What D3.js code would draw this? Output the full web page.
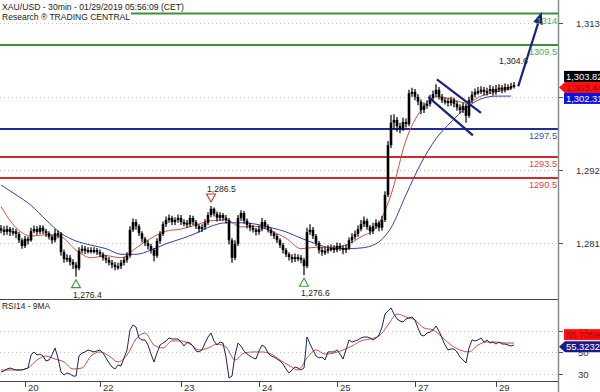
<!DOCTYPE html>
<html><head><meta charset="utf-8">
<script src="https://cdn.jsdelivr.net/npm/d3@7"></script>
<style>body{margin:0;background:#fff}svg{display:block;font-family:"Liberation Sans",Arial,sans-serif}</style>
</head><body><svg id="c" width="600" height="392"></svg>
<script>
// ---------- DATA ----------
const firstOpen = 1283.3;
const closes = [1283.1,1282.8,1283.2,1282.8,1282.9,1282.5,1281.6,1280.8,1281.8,1281.6,
1282.9,1283.2,1282.8,1283.4,1282.9,1282.6,1282.1,1281.6,1282.6,1282.5,
1279.9,1278.9,1279.1,1278.5,1278.1,1277.6,1280.1,1280.4,1280.1,1280.2,
1280.1,1280.2,1279.9,1279.6,1279.1,1278.8,1278.4,1278.1,1277.8,1277.9,
1278.4,1278.8,1279.4,1283.1,1284.2,1283.6,1282.6,1281.8,1281.2,1280.8,
1280.2,1279.4,1281.5,1282.5,1283.9,1284.5,1284.8,1284.2,1284.5,1284.8,
1284.2,1284.1,1283.9,1284.8,1284.2,1283.6,1283.2,1283.5,1284.1,1285.2,
1286.1,1285.4,1284.8,1285.2,1284.8,1284.5,1281.6,1279.1,1281.1,1284.8,
1285.5,1284.4,1283.8,1283.4,1283.1,1282.8,1283.2,1284.2,1283.6,1283.1,
1282.6,1282.2,1281.6,1280.9,1280.2,1279.6,1279.2,1278.9,1279.2,1279.1,
1278.8,1277.9,1282.8,1283.1,1282.2,1281.2,1280.2,1279.9,1280.1,1280.4,
1280.5,1280.2,1280.8,1280.5,1280.2,1280.5,1281.6,1282.1,1282.5,1283.2,
1283.9,1284.4,1283.5,1282.9,1283.6,1284.1,1283.4,1284.5,1288.1,1295.2,
1298.4,1298.8,1297.9,1297.6,1298.5,1298.2,1302.6,1302.8,1302.1,1301.4,
1300.2,1300.8,1301.1,1301.9,1302.5,1303.1,1302.1,1301.6,1301.5,1301.2,
1301.6,1301.1,1300.6,1300.2,1300.8,1299.4,1301.6,1302.4,1302.8,1302.9,
1303.1,1302.8,1302.9,1303.2,1302.8,1303.2,1303.4,1303.1,1303.5,1303.4,
1303.6,1303.8];
const highs = [1283.8,1283.6,1283.7,1283.5,1283.4,1283.2,1282.8,1281.9,1282.2,1282.1,
1283.4,1283.7,1283.6,1283.8,1283.7,1283.2,1282.9,1282.4,1283.2,1283.0,
1282.8,1280.3,1279.6,1279.5,1278.9,1278.5,1280.6,1280.9,1280.8,1280.6,
1280.6,1280.6,1280.5,1280.3,1279.9,1279.5,1279.2,1278.8,1278.5,1278.4,
1278.8,1279.2,1279.9,1283.6,1284.7,1284.6,1283.9,1282.9,1282.1,1281.6,
1281.1,1280.5,1281.9,1282.9,1284.3,1285.0,1285.3,1285.1,1284.9,1285.3,
1285.2,1284.6,1284.5,1285.2,1285.1,1284.5,1283.9,1283.9,1284.6,1285.6,
1286.5,1286.3,1285.7,1285.6,1285.5,1285.2,1284.8,1281.9,1281.6,1285.2,
1285.9,1285.8,1284.7,1284.1,1283.8,1283.4,1283.7,1284.8,1284.5,1283.9,
1283.4,1282.9,1282.5,1281.9,1281.2,1280.5,1279.9,1279.6,1279.7,1279.6,
1279.5,1279.1,1283.4,1283.9,1283.5,1282.5,1281.5,1280.6,1280.6,1280.9,
1281.0,1280.9,1281.3,1281.2,1280.9,1281.0,1282.0,1282.6,1283.0,1283.7,
1284.5,1285.0,1284.7,1283.8,1284.1,1284.6,1284.4,1285.1,1288.6,1295.8,
1299.5,1299.6,1299.2,1298.4,1299.1,1299.0,1303.1,1303.4,1303.2,1302.5,
1301.7,1301.3,1301.6,1302.4,1303.0,1303.9,1303.5,1302.5,1302.0,1301.9,
1302.1,1302.0,1301.5,1301.0,1301.3,1301.1,1302.1,1302.9,1303.3,1303.5,
1303.6,1303.5,1303.4,1303.8,1303.6,1303.8,1303.9,1303.8,1304.0,1303.9,
1304.1,1304.2];
const lows = [1282.6,1282.3,1282.4,1282.2,1282.3,1281.9,1281.2,1280.4,1280.5,1281.0,
1281.4,1282.6,1282.4,1282.5,1282.5,1282.1,1281.7,1281.1,1281.3,1281.9,
1279.4,1278.4,1278.5,1278.0,1277.5,1276.4,1277.3,1279.7,1279.6,1279.7,
1279.7,1279.7,1279.5,1279.2,1278.7,1278.3,1278.0,1277.6,1277.3,1277.4,
1277.5,1278.0,1278.4,1279.1,1282.8,1283.1,1282.2,1281.3,1280.8,1280.3,
1279.7,1278.6,1279.1,1281.1,1282.2,1283.5,1284.1,1283.8,1283.8,1284.1,
1283.8,1283.6,1283.4,1283.5,1283.8,1283.2,1282.7,1282.8,1283.1,1283.8,
1284.9,1285.0,1284.3,1284.4,1284.4,1284.0,1281.0,1278.4,1278.8,1280.8,
1284.4,1284.0,1283.3,1282.9,1282.7,1282.3,1282.4,1282.9,1283.2,1282.7,
1282.2,1281.8,1281.2,1280.5,1279.7,1279.2,1278.7,1278.4,1278.5,1278.6,
1278.3,1276.6,1277.6,1282.4,1281.8,1280.8,1279.7,1279.4,1279.5,1279.7,
1280.0,1279.8,1279.9,1280.1,1279.6,1279.8,1280.2,1281.2,1281.7,1282.1,
1282.9,1283.5,1283.1,1282.4,1282.5,1283.2,1282.9,1283.0,1284.2,1287.8,
1294.8,1297.5,1297.1,1296.9,1297.2,1297.7,1297.9,1302.1,1301.6,1300.9,
1299.6,1299.8,1300.4,1300.7,1301.5,1302.1,1301.7,1301.2,1301.0,1300.7,
1300.8,1300.6,1300.1,1299.7,1299.8,1298.4,1299.1,1301.2,1302.0,1302.4,
1302.5,1302.3,1302.3,1302.5,1302.3,1302.4,1302.8,1302.6,1302.7,1303.0,
1303.1,1303.3];
// moving averages sampled every 5 bars
const maStep = 5;
const redMA = [1286.4,1283.4,1282.2,1282.4,1282.1,1280.2,1279.1,1279.4,1279.1,1280.5,
1281.9,1282.9,1283.2,1283.8,1284.4,1284.5,1283.5,1283.6,1282.9,1281.9,
1280.4,1280.6,1280.6,1280.9,1282.1,1283.4,1288.1,1295.9,1300.2,1302.1,
1301.8,1301.2,1302.2,1302.8,1303.2];
const blueMA = [1289.5,1288.1,1286.6,1284.5,1282.6,1281.5,1280.9,1280.4,1279.6,1279.6,
1280.2,1281.1,1281.8,1282.6,1283.6,1284.1,1284.1,1283.9,1283.4,1282.8,
1281.9,1281.1,1280.5,1280.4,1280.5,1281.1,1283.4,1288.1,1292.6,1296.1,
1298.5,1300.5,1301.8,1302.2,1302.2];
const rsi = [32.3,33.2,35.0,35.9,35.0,34.1,34.1,34.1,35.0,35.9,
47.7,50.5,47.7,48.6,46.8,42.3,43.2,47.7,54.1,45.0,
32.3,29.5,31.4,30.5,28.6,28.6,46.8,49.5,50.5,52.3,
51.4,50.5,51.4,52.3,49.5,45.0,40.5,36.8,35.0,38.6,
37.7,45.0,52.3,70.5,75.0,73.2,63.2,61.4,61.4,56.8,
48.6,41.4,49.5,56.8,58.6,60.5,63.2,62.3,62.3,62.3,
59.5,55.9,59.5,58.6,55.9,51.4,50.5,52.3,58.6,64.1,
67.7,60.5,56.8,59.5,58.6,45.9,26.8,28.6,47.7,58.6,
55.9,51.4,48.6,46.8,45.0,44.1,51.4,56.8,55.0,49.5,
46.8,45.9,44.1,42.3,39.5,35.0,31.4,34.1,36.8,35.9,
34.1,35.9,64.1,57.7,52.3,46.8,45.0,45.9,43.2,50.5,
50.5,50.5,52.3,48.6,44.1,52.3,61.4,59.5,60.5,61.4,
63.2,64.1,64.1,63.2,61.4,63.2,65.9,73.2,85.0,87.7,
90.5,85.0,80.5,78.6,77.7,80.5,81.4,82.3,79.5,72.3,
65.9,65.0,67.7,68.6,70.5,74.1,69.5,63.2,56.8,52.3,
53.2,53.2,50.5,45.9,43.2,40.5,54.1,61.4,60.5,61.4,
63.2,59.5,61.4,58.6,59.5,57.7,59.5,57.7,57.7,56.8,
55.9,56.8];
// RSI moving average sampled every 3 bars
const rsiMAStep = 3;
const rsiMA = [34.1,34.1,34.1,35.9,43.2,46.8,44.1,41.4,35.0,35.9,
46.8,50.5,46.8,41.4,47.7,62.3,67.7,56.8,54.1,60.5,
60.5,57.7,52.3,54.1,57.7,55.0,43.2,49.5,50.5,50.5,
48.6,43.2,38.2,34.1,45.0,52.3,48.6,49.5,52.3,55.9,
60.5,62.3,65.0,75.0,85.0,82.3,79.5,72.3,70.5,64.1,
56.8,52.3,50.5,56.8,59.5,59.5,58.6,58.6];

const dayIdx = [8,33,60,86,112,138,165];
const dayLabels = ["20","22","23","24","25","27","29"];
const priceTicks = [1312.6,1302.07,1291.64,1281.21];
const rsiTicks = [70,50,30];
const levels = [1314,1309.5,1297.5,1293.5,1290.5];
const levelLabels = ["1314","1309.5","1297.5","1293.5","1290.5"];
const levelKinds = ["res","res","piv","sup","sup"];
const lastPrice = 1303.82, redLast = 1303.44, blueLast = 1302.31;
const rsiLast = 55.3232, rsiMALast = 55.7059;
const markers = [{i:25,p:1276.4,type:"low",label:"1,276.4"},{i:101,p:1276.6,type:"low",label:"1,276.6"},{i:70,p:1286.5,type:"high",label:"1,286.5"}];
const lastHigh = {i:166,p:1304.6,label:"1,304.6"};
const channelUpper = [[145.3,1304.6],[160,1299.8]];
const channelLower = [[142.4,1302.1],[157.3,1296.6]];
const arrowPts = [[172.4,1303.6],[180.2,1314.2]];

// ---------- DRAW ----------
const svg = d3.select("#c");
const AX = 558.5;
const x = d3.scaleLinear().domain([0,171]).range([1,514]);
const y = d3.scaleLinear().domain([1273.21,1315.93]).range([299,0]);
const yr = d3.scaleLinear().domain([23.18,97.73]).range([382,300]);
const col = {res:"#3a913a", piv:"#1f2b9a", sup:"#cc2b2b"};
const tcol = {res:"#5aa85a", piv:"#3d4fae", sup:"#d24848"};

const defs = svg.append("defs");
defs.append("clipPath").attr("id","cm").append("rect").attr("x",0).attr("y",0).attr("width",AX).attr("height",299);
defs.append("clipPath").attr("id","cr").append("rect").attr("x",0).attr("y",300).attr("width",AX).attr("height",82);

// grid
svg.append("g").selectAll("line").data(priceTicks).join("line")
  .attr("x1",0).attr("x2",AX).attr("y1",d=>Math.round(y(d))+0.5).attr("y2",d=>Math.round(y(d))+0.5)
  .attr("stroke","#c4c4c4").attr("stroke-dasharray","1,3");
svg.append("g").selectAll("line").data(rsiTicks).join("line")
  .attr("x1",0).attr("x2",AX).attr("y1",d=>Math.round(yr(d))+0.5).attr("y2",d=>Math.round(yr(d))+0.5)
  .attr("stroke","#c4c4c4").attr("stroke-dasharray","1,3");

// levels
const main = svg.append("g").attr("clip-path","url(#cm)");
main.selectAll("line.lv").data(levels).join("line").attr("class","lv")
  .attr("x1",0).attr("x2",AX).attr("y1",d=>y(d)).attr("y2",d=>y(d))
  .attr("stroke",(d,i)=>col[levelKinds[i]]).attr("stroke-width",2);

// header (white behind it)
svg.append("rect").attr("x",0).attr("y",0).attr("width",131).attr("height",22).attr("fill","#fff");
svg.append("text").attr("x",2).attr("y",10).attr("font-size",9).attr("fill","#222")
  .attr("textLength",182).attr("lengthAdjust","spacingAndGlyphs").text("XAU/USD - 30min - 01/29/2019 05:56:09 (CET)");
svg.append("text").attr("x",2).attr("y",20).attr("font-size",9).attr("fill","#222")
  .attr("textLength",128).attr("lengthAdjust","spacingAndGlyphs").text("Research \u00AE TRADING CENTRAL");

// level labels
svg.selectAll("text.lvl").data(levels).join("text").attr("class","lvl")
  .attr("x",557).attr("y",d=>y(d)+10).attr("text-anchor","end").attr("font-size",9.2)
  .attr("fill",(d,i)=>tcol[levelKinds[i]]).text((d,i)=>levelLabels[i]);

// MAs
const maLine = d3.line().x((d,k)=>x(k*maStep)).y(d=>y(d)).curve(d3.curveMonotoneX);
main.append("path").attr("d",maLine(blueMA)).attr("fill","none").attr("stroke","#3340a8").attr("stroke-width",1);
main.append("path").attr("d",maLine(redMA)).attr("fill","none").attr("stroke","#d0503c").attr("stroke-width",1);

// candles
const bars = closes.map((c,i)=>({i, o: i===0?firstOpen:closes[i-1], c, h:highs[i], l:lows[i]}));
const cg = main.append("g");
cg.selectAll("line").data(bars).join("line")
  .attr("x1",d=>x(d.i)).attr("x2",d=>x(d.i))
  .attr("y1",d=>y(d.h)).attr("y2",d=>y(d.l)).attr("stroke","#000").attr("stroke-width",1.2);
cg.selectAll("rect").data(bars).join("rect")
  .attr("x",d=>x(d.i)-1.3).attr("width",2.6)
  .attr("y",d=>y(Math.max(d.o,d.c))).attr("height",d=>Math.max(2,Math.abs(y(d.o)-y(d.c))))
  .attr("fill","#000");

// channel
[channelUpper,channelLower].forEach(ch=>{
  main.append("line").attr("x1",x(ch[0][0])).attr("y1",y(ch[0][1])).attr("x2",x(ch[1][0])).attr("y2",y(ch[1][1]))
    .attr("stroke","#1a237e").attr("stroke-width",2.2);
});

// arrow
{
  const [a,b] = arrowPts;
  const x1=x(a[0]), y1=y(a[1]), x2=x(b[0]), y2=y(b[1]);
  const ang=Math.atan2(y2-y1,x2-x1), L=12, Wd=5;
  const bx=x2-L*Math.cos(ang), by=y2-L*Math.sin(ang);
  main.append("line").attr("x1",x1).attr("y1",y1).attr("x2",bx).attr("y2",by).attr("stroke","#1a237e").attr("stroke-width",2.2);
  const px=-Math.sin(ang), py=Math.cos(ang);
  main.append("path").attr("d",`M${x2},${y2}L${bx+px*Wd},${by+py*Wd}L${bx-px*Wd},${by-py*Wd}Z`).attr("fill","#1a237e");
}

// markers
markers.forEach(m=>{
  const cx=x(m.i);
  if(m.type==="low"){
    const ty=y(m.p)+7;
    svg.append("path").attr("d",`M${cx},${ty-4}L${cx+4.5},${ty+4}L${cx-4.5},${ty+4}Z`).attr("fill","#fff").attr("stroke","#3a9a3a").attr("stroke-width",1.1);
    svg.append("text").attr("x",cx-3).attr("y",y(m.p)+21).attr("font-size",8.6).attr("fill","#222").text(m.label);
  } else {
    const ty=y(m.p)-8;
    svg.append("path").attr("d",`M${cx},${ty+4}L${cx+4.5},${ty-4}L${cx-4.5},${ty-4}Z`).attr("fill","#fff").attr("stroke","#d03030").attr("stroke-width",1.1);
    svg.append("text").attr("x",cx-4).attr("y",y(m.p)-14).attr("font-size",8.6).attr("fill","#222").text(m.label);
  }
});
svg.append("text").attr("x",x(lastHigh.i)).attr("y",y(lastHigh.p)-15).attr("font-size",8.6).attr("fill","#222").text(lastHigh.label);

// RSI pane
const rp = svg.append("g").attr("clip-path","url(#cr)");
rp.append("path").attr("d",d3.line().x((d,k)=>x(k*rsiMAStep)).y(d=>yr(d)).curve(d3.curveMonotoneX)(rsiMA))
  .attr("fill","none").attr("stroke","#c8503c").attr("stroke-width",1);
rp.append("path").attr("d",d3.line().x((d,k)=>x(k)).y(d=>yr(d))(rsi))
  .attr("fill","none").attr("stroke","#1c2266").attr("stroke-width",1);
svg.append("text").attr("x",2).attr("y",309).attr("font-size",9).attr("fill","#222")
  .attr("textLength",48).attr("lengthAdjust","spacingAndGlyphs").text("RSI14 - 9MA");

// pane borders / axes
svg.append("line").attr("x1",0).attr("x2",AX).attr("y1",299.5).attr("y2",299.5).attr("stroke","#444");
svg.append("line").attr("x1",0).attr("x2",AX).attr("y1",381.5).attr("y2",381.5).attr("stroke","#444");
svg.append("line").attr("x1",AX).attr("x2",AX).attr("y1",0).attr("y2",392).attr("stroke","#8a8a8a").attr("stroke-width",1.5);

// right axis ticks & labels
svg.selectAll("line.pt").data(priceTicks).join("line").attr("class","pt")
  .attr("x1",559).attr("x2",563).attr("y1",d=>Math.round(y(d))+0.5).attr("y2",d=>Math.round(y(d))+0.5).attr("stroke","#555");
svg.selectAll("text.pt").data(priceTicks).join("text").attr("class","pt")
  .attr("x",576).attr("y",d=>y(d)+4).attr("font-size",9.5).attr("fill","#333").text(d=>d3.format(",.0f")(d));
svg.selectAll("line.rt").data(rsiTicks).join("line").attr("class","rt")
  .attr("x1",559).attr("x2",563).attr("y1",d=>Math.round(yr(d))+0.5).attr("y2",d=>Math.round(yr(d))+0.5).attr("stroke","#555");
svg.selectAll("text.rt").data(rsiTicks).join("text").attr("class","rt")
  .attr("x",578).attr("y",d=>yr(d)+4).attr("font-size",9.5).attr("fill","#333").text(d=>d);

// date axis
svg.selectAll("line.dt").data(dayIdx).join("line").attr("class","dt")
  .attr("x1",d=>Math.round(x(d))+0.5).attr("x2",d=>Math.round(x(d))+0.5).attr("y1",382).attr("y2",387).attr("stroke","#444");
svg.selectAll("text.dt").data(dayIdx).join("text").attr("class","dt")
  .attr("x",d=>x(d)+3).attr("y",391).attr("font-size",9.5).attr("fill","#333").text((d,i)=>dayLabels[i]);

// value tags
function tag(cy, fill, txt, tc, pointer){
  const h=11, x0=565;
  if(pointer) svg.append("path").attr("d",`M559,${cy}L${x0},${cy-h/2}L600,${cy-h/2}L600,${cy+h/2}L${x0},${cy+h/2}Z`).attr("fill",fill);
  else svg.append("rect").attr("x",x0-1).attr("y",cy-h/2).attr("width",40).attr("height",h).attr("fill",fill);
  svg.append("text").attr("x",x0+1).attr("y",cy+3.5).attr("font-size",9.4).attr("fill",tc).text(txt);
}
const redY = y(redLast);
tag(redY-11, "#000", d3.format(",.2f")(lastPrice), "#fff", false);
tag(redY, "#ff1010", d3.format(",.2f")(redLast), "#a00000", true);
tag(redY+11, "#1010e0", d3.format(",.2f")(blueLast), "#fff", false);
const rsiY = yr(rsiLast);
tag(rsiY-12, "#ff1010", d3.format(".4f")(rsiMALast), "#a00000", false);
tag(rsiY, "#1a1a8c", d3.format(".4f")(rsiLast), "#fff", true);
</script></body></html>
